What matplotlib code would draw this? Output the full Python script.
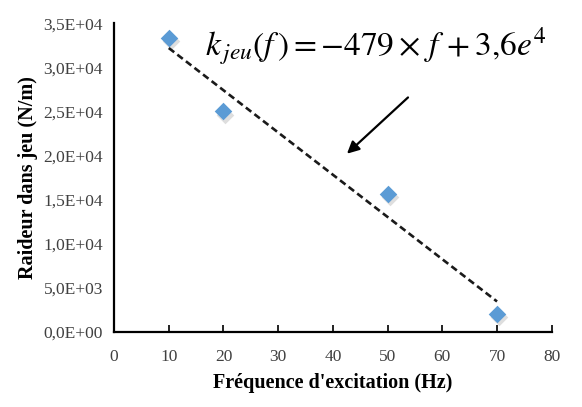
import matplotlib.pyplot as plt
import numpy as np

# données
freq = [10, 20, 50, 70]
raideur = [33300, 25000, 15700, 2100]
xticks = [0, 10, 20, 30, 40, 50, 60, 70, 80]
yticks = [0, 5000, 10000, 15000, 20000, 25000, 30000, 35000]

plt.rcParams['font.family'] = ['Liberation Serif', 'DejaVu Serif']
plt.rcParams['mathtext.fontset'] = 'stix'

fig = plt.figure(figsize=(5.82, 4.07), dpi=100)
ax = fig.add_axes([0.196, 0.184, 0.752, 0.759])

# ombre legere + points
ax.scatter(np.array(freq) + 0.35, np.array(raideur) - 350, marker='D', s=80,
           color='#c8c8c8', alpha=0.6, zorder=2, linewidths=0)
ax.scatter(freq, raideur, marker='D', s=80, color='#5b9bd5', zorder=3, linewidths=0)

# courbe de tendance lineaire
a, b = np.polyfit(freq, raideur, 1)
xt = np.array([freq[0], freq[-1]])
ax.plot(xt, a * xt + b, ls=(0, (2.6, 1.5)), color='#1a1a1a', lw=1.9, zorder=2)

ax.set_xlim(0, 80)
ax.set_ylim(0, 35000)
ax.set_xticks(xticks)
ax.set_yticks(yticks)
ax.set_yticklabels([('%.1E' % v).replace('.', ',') for v in yticks])

ax.spines['top'].set_visible(False)
ax.spines['right'].set_visible(False)
ax.spines['left'].set_linewidth(1.6)
ax.spines['bottom'].set_linewidth(1.6)
ax.tick_params(axis='x', direction='in', length=5, width=1.3, pad=12,
               labelsize=12.5, colors='#111111', labelcolor='#404040')
ax.tick_params(axis='y', length=0, pad=8, labelsize=12.5, labelcolor='#404040')

ax.set_xlabel("Fréquence d'excitation (Hz)", fontsize=14.5, fontweight='bold', labelpad=6)
ax.set_ylabel('Raideur dans jeu (N/m)', fontsize=14.5, fontweight='bold', labelpad=4)

ax.text(16.6, 32300, r'$k_{\,jeu}\left(f\,\right) = -479\times\,f\,+3{,}6e^{4}$',
        fontsize=24, va='center', ha='left')
ax.annotate('', xy=(42.2, 20000), xytext=(54.1, 26800),
            arrowprops=dict(arrowstyle='-|>', color='black', lw=1.6,
                            mutation_scale=18))

fig.savefig('out.png', dpi=100)
